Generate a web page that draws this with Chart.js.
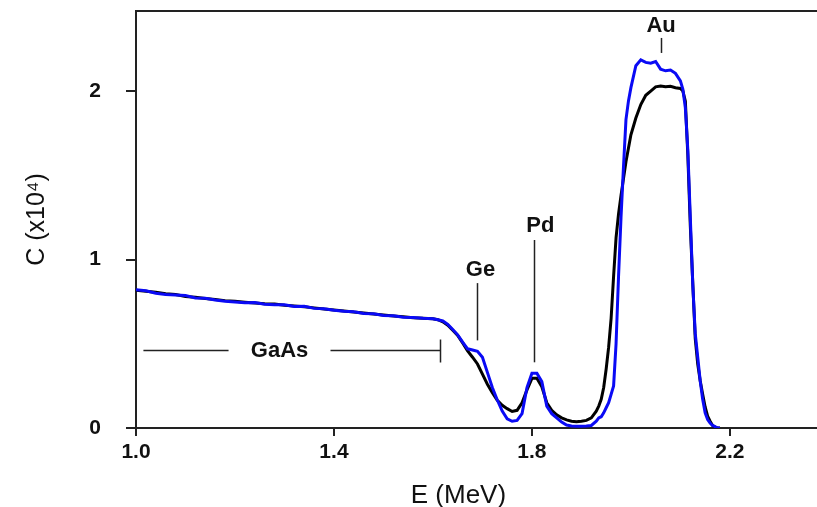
<!DOCTYPE html>
<html>
<head>
<meta charset="utf-8">
<title>RBS spectrum</title>
<script src="https://cdn.jsdelivr.net/npm/chart.js@4.4.1/dist/chart.umd.min.js"></script>
<style>
  html, body { margin: 0; padding: 0; background: #fff; }
  canvas { display: block; }
</style>
</head>
<body>
<canvas id="myChart" width="817" height="507"></canvas>
<script>
// energies (MeV), shared by both spectra
var energies = [
  1.00, 1.02, 1.04, 1.06, 1.08, 1.10, 1.12, 1.14, 1.16, 1.18,
  1.20, 1.22, 1.24, 1.26, 1.28, 1.30, 1.32, 1.34, 1.36, 1.38,
  1.40, 1.42, 1.44, 1.46, 1.48, 1.50, 1.52, 1.54, 1.56, 1.58, 1.60,
  1.61, 1.62, 1.63, 1.64, 1.65, 1.66, 1.67, 1.68, 1.69, 1.70,
  1.71, 1.72, 1.73, 1.74, 1.75, 1.76, 1.77, 1.78, 1.79, 1.80,
  1.81, 1.82, 1.83, 1.84, 1.85, 1.86, 1.87, 1.88, 1.89, 1.90,
  1.91, 1.92, 1.93, 1.935, 1.94, 1.945, 1.95, 1.955, 1.96, 1.965,
  1.97, 1.975, 1.98, 1.985, 1.99, 1.995, 2.00,
  2.01, 2.02, 2.03, 2.04, 2.05, 2.06, 2.07, 2.08, 2.09, 2.10,
  2.105, 2.11, 2.115, 2.12, 2.125, 2.13, 2.135, 2.14, 2.145, 2.15,
  2.155, 2.16, 2.165, 2.17, 2.175, 2.18
];

// counts (x10^4), black spectrum
var blackCounts = [
  0.818, 0.812, 0.806, 0.797, 0.792, 0.781, 0.776, 0.768, 0.763, 0.756,
  0.752, 0.747, 0.742, 0.738, 0.736, 0.729, 0.724, 0.720, 0.713, 0.706,
  0.701, 0.695, 0.688, 0.683, 0.676, 0.670, 0.665, 0.660, 0.655, 0.652, 0.648,
  0.643, 0.630, 0.610, 0.580, 0.550, 0.505, 0.458, 0.420, 0.380, 0.320,
  0.260, 0.210, 0.165, 0.135, 0.115, 0.098, 0.105, 0.150, 0.226, 0.295,
  0.295, 0.245, 0.150, 0.105, 0.078, 0.060, 0.048, 0.040, 0.037, 0.040,
  0.045, 0.060, 0.100, 0.130, 0.170, 0.240, 0.350, 0.480, 0.650, 0.900,
  1.130, 1.270, 1.380, 1.480, 1.580, 1.660, 1.740,
  1.840, 1.920, 1.975, 2.000, 2.025, 2.030, 2.025, 2.028, 2.020, 2.015,
  2.000, 1.940, 1.620, 1.200, 0.860, 0.530, 0.380, 0.280, 0.200, 0.125,
  0.070, 0.040, 0.015, 0.005, 0.000, 0.000
];

// counts (x10^4), blue spectrum
var blueCounts = [
  0.820, 0.814, 0.800, 0.792, 0.790, 0.786, 0.772, 0.770, 0.760, 0.752,
  0.748, 0.744, 0.745, 0.735, 0.732, 0.731, 0.721, 0.722, 0.710, 0.708,
  0.699, 0.693, 0.690, 0.679, 0.678, 0.668, 0.666, 0.657, 0.656, 0.651, 0.648,
  0.642, 0.635, 0.615, 0.585, 0.553, 0.510, 0.470, 0.463, 0.455, 0.420,
  0.330, 0.240, 0.166, 0.100, 0.055, 0.040, 0.045, 0.085, 0.240, 0.325,
  0.325, 0.275, 0.130, 0.085, 0.060, 0.035, 0.018, 0.012, 0.010, 0.010,
  0.012, 0.015, 0.040, 0.060, 0.067, 0.090, 0.120, 0.150, 0.200, 0.250,
  0.500, 0.900, 1.250, 1.550, 1.830, 1.940, 2.020,
  2.150, 2.185, 2.170, 2.165, 2.175, 2.130, 2.120, 2.125, 2.105, 2.060,
  2.010, 1.900, 1.650, 1.250, 0.850, 0.560, 0.420, 0.280, 0.170, 0.090,
  0.050, 0.030, 0.015, 0.008, 0.000, 0.000
];

var xTicks = [1.0, 1.4, 1.8, 2.2];
var yTicks = [0, 1, 2];

// peak markers
var peakNames = ['Ge', 'Pd', 'Au'];
var peakLineE = [1.690, 1.805, 2.061];
var peakLineLow = [0.52, 0.39, 2.226];
var peakLineHigh = [0.86, 1.116, 2.315];
var peakTextE = [1.696, 1.817, 2.061];
var peakTextC = [0.94, 1.20, 2.386];

// GaAs range bar
var gaasRange = [1.015, 1.615];
var gaasGap = [1.187, 1.393];
var gaasLevel = 0.463;

function toPoints(xs, ys) {
  return xs.map(function(e, i){ return {x: e, y: ys[i]}; });
}

var FONT = '"Liberation Sans", Arial, sans-serif';

var notes = {
  id: 'notes',
  afterDraw: function(chart) {
    var ctx = chart.ctx, area = chart.chartArea;
    var x = chart.scales.x, y = chart.scales.y;
    ctx.save();

    // top frame line
    ctx.strokeStyle = '#222';
    ctx.lineWidth = 2;
    ctx.beginPath();
    ctx.moveTo(area.left, area.top);
    ctx.lineTo(area.right, area.top);
    ctx.stroke();

    ctx.lineWidth = 1.5;
    ctx.fillStyle = '#111';
    ctx.font = 'bold 22px ' + FONT;
    ctx.textAlign = 'center';
    ctx.textBaseline = 'middle';

    // peaks
    for (var i = 0; i < peakNames.length; i++) {
      var px = Math.round(x.getPixelForValue(peakLineE[i])) + 0.5;
      ctx.beginPath();
      ctx.moveTo(px, y.getPixelForValue(peakLineLow[i]));
      ctx.lineTo(px, y.getPixelForValue(peakLineHigh[i]));
      ctx.stroke();
      ctx.fillText(peakNames[i], x.getPixelForValue(peakTextE[i]), y.getPixelForValue(peakTextC[i]));
    }

    // GaAs bar
    var gy = Math.round(y.getPixelForValue(gaasLevel)) + 0.5;
    ctx.beginPath();
    ctx.moveTo(x.getPixelForValue(gaasRange[0]), gy);
    ctx.lineTo(x.getPixelForValue(gaasGap[0]), gy);
    ctx.moveTo(x.getPixelForValue(gaasGap[1]), gy);
    ctx.lineTo(x.getPixelForValue(gaasRange[1]), gy);
    var ex = Math.round(x.getPixelForValue(gaasRange[1])) + 0.5;
    ctx.moveTo(ex, gy - 11);
    ctx.lineTo(ex, gy + 12);
    ctx.stroke();
    ctx.fillText('GaAs', x.getPixelForValue((gaasGap[0] + gaasGap[1]) / 2), gy);

    ctx.restore();
  }
};

var ctx = document.getElementById('myChart').getContext('2d');
var chart = new Chart(ctx, {
  type: 'line',
  data: {
    datasets: [{
      label: 'blue',
      data: toPoints(energies, blueCounts),
      borderColor: '#0a0af5',
      borderWidth: 3,
      pointRadius: 0,
      tension: 0,
      order: 0
    }, {
      label: 'black',
      data: toPoints(energies, blackCounts),
      borderColor: '#000',
      borderWidth: 3,
      pointRadius: 0,
      tension: 0,
      order: 1
    }]
  },
  plugins: [notes],
  options: {
    responsive: false,
    animation: false,
    devicePixelRatio: 1,
    layout: { padding: { top: 11, right: 0, bottom: 0, left: 0 } },
    plugins: {
      legend: { display: false },
      tooltip: { enabled: false }
    },
    scales: {
      x: {
        type: 'linear',
        min: 1.0,
        max: 2.376,
        afterBuildTicks: function(scale){ scale.ticks = xTicks.map(function(v){ return {value: v}; }); },
        afterFit: function(scale){
          scale.height = 79;
          scale.paddingLeft = 0; scale.paddingRight = 0;
          scale.paddingTop = 0; scale.paddingBottom = 0;
        },
        ticks: {
          color: '#111',
          padding: 4,
          maxRotation: 0,
          font: { family: FONT, size: 21, weight: 'bold' },
          callback: function(v){ return Number(v).toFixed(1); }
        },
        grid: { drawOnChartArea: false, drawTicks: true, tickLength: 8, color: '#222', lineWidth: 2 },
        border: { display: true, color: '#222', width: 2 },
        title: {
          display: true,
          text: 'E (MeV)     ',
          color: '#111',
          padding: { top: 2, bottom: -2 },
          font: { family: FONT, size: 26, lineHeight: 1.0 }
        }
      },
      y: {
        type: 'linear',
        min: 0,
        max: 2.475,
        afterBuildTicks: function(scale){ scale.ticks = yTicks.map(function(v){ return {value: v}; }); },
        afterFit: function(scale){
          scale.width = 136;
          scale.paddingLeft = 0; scale.paddingRight = 0;
          scale.paddingTop = 0; scale.paddingBottom = 0;
        },
        ticks: {
          color: '#111',
          padding: 25,
          font: { family: FONT, size: 21, weight: 'bold' },
          callback: function(v){ return String(v); }
        },
        grid: { drawOnChartArea: false, drawTicks: true, tickLength: 10, color: '#222', lineWidth: 2 },
        border: { display: true, color: '#222', width: 2 },
        title: {
          display: true,
          text: 'C (x10\u2074)',
          color: '#111',
          padding: { top: 22, bottom: 0 },
          font: { family: FONT, size: 25 }
        }
      }
    }
  }
});
</script>
</body>
</html>
